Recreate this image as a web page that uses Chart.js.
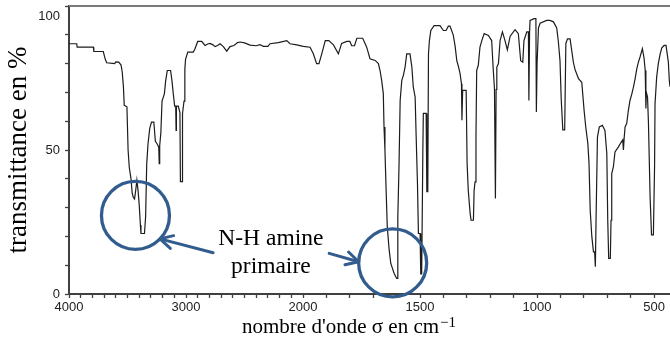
<!DOCTYPE html>
<html><head><meta charset="utf-8">
<script src="https://cdn.jsdelivr.net/npm/chart.js@4/dist/chart.umd.min.js"></script>
<style>html,body{margin:0;padding:0;background:#fff;overflow:hidden}#wrap{width:670px;height:338px}</style>
</head><body><div id="wrap"><canvas id="c" width="670" height="338"></canvas></div>
<script>
// ---- data (wavenumber in cm-1, transmittance in %) ----
const wavenumbers = [4000,3934,3930,3792,3788,3707,3690,3678,3610,3600,3575,3555,3545,3535,3528,3505,3495,3485,3470,3460,3450,3440,3430,3420,3410,3400,3390,3385,3355,3345,3336,3325,3310,3295,3275,3262,3245,3233,3229,3225,3215,3205,3185,3174,3160,3132,3120,3110,3097,3088,3085,3082,3066,3052,3048,3034,3030,3017,3010,3004,2985,2938,2925,2900,2866,2838,2815,2795,2770,2752,2730,2709,2681,2652,2624,2590,2560,2538,2500,2453,2400,2368,2340,2300,2282,2211,2139,2111,2054,1999,1970,1956,1942,1932,1920,1905,1890,1870,1849,1835,1813,1800,1792,1780,1770,1745,1735,1728,1714,1692,1678,1671,1664,1657,1654,1650,1645,1640,1632,1625,1611,1600,1597,1595,1590,1585,1578,1571,1564,1557,1543,1535,1529,1521,1517,1511,1507,1500,1497,1493,1488,1486,1474,1471,1467,1464,1460,1454,1440,1415,1400,1389,1379,1372,1358,1350,1343,1336,1329,1323,1321,1318,1303,1299,1294,1286,1282,1272,1269,1265,1261,1258,1251,1244,1236,1226,1208,1194,1187,1182,1178,1175,1172,1165,1158,1148,1137,1127,1115,1094,1080,1070,1061,1056,1044,1037,1035,1032,1030,1013,1005,1003,1000,994,987,959,945,930,916,909,902,897,890,882,877,870,859,852,845,838,823,809,805,799,792,783,778,773,766,759,754,751,748,742,734,721,710,702,698,694,687,684,681,674,667,653,642,634,631,628,624,617,610,603,595,588,581,574,567,560,550,543,538,535,533,528,524,517,511,503,498,496,489,482,474,467,457,449,444,439,435,432];
const transmittance = [86.9,86.9,85.7,85.7,84.2,84.2,81.5,80.3,80,80.6,80.5,79.5,77,72,65.5,65,50,44,40,35,33.5,33,36,39.5,36,31,24,21,21,27,45,52,57.5,59.7,59.7,53,52,51,45.3,51.5,56,67,69.5,74,77.6,77.6,74,70,65.2,65.2,56.8,65.2,65.2,63,39,39,62.6,67,78,81.5,84,84,85,87.7,87.7,86.3,86.8,87,86.5,85.9,86.3,86.9,85.9,84.3,85.9,86.3,87.3,87.5,87.2,86.4,86.2,86.6,86,86,86.9,87.3,88,86.9,86.5,86,85.7,83.4,80,80,83.4,88,88,86.5,83.4,87,87.7,87.7,86.2,86.2,88.8,88.8,87,85.7,81.7,81.1,80,77.6,74.2,69.6,58,50,36,23.3,15.3,10.6,7.2,5.4,5.4,26.8,44.1,67.2,74.2,76,78.8,83.4,83.4,78.8,71.9,68.4,55.7,38.4,21,21,7,7,50,62.7,62.7,35.5,35.5,83.4,88,91.5,93.2,93.2,91.5,91.5,93,93,89.9,86,81,79,76.5,73,60.3,70.7,70.7,45.4,36,28,25.6,25.6,36,38.9,55,77.6,79.5,85.7,88,90.4,89.8,88,77.6,71.3,33.2,71,78.8,80,88,91,88,84.8,89.5,91.8,90.4,81,80.5,88,91,91,67.2,91,95,95.6,95.6,63.2,80,92.4,94,95,95,94.5,92.4,87.6,81,68,57,57,87,88.6,88.6,84.6,80.5,78,74.8,73.5,69.6,63.7,58,52.2,45.3,29.1,19.9,14.6,14.6,9.5,25.6,54.5,58,58.6,56.8,48.8,25.6,12.4,12.4,25.6,41.8,44.1,49.3,51,52.5,53.5,50,54,58,59.2,63.7,67.2,69.5,71.9,74.8,78.2,80.5,82.3,85.2,82,77.6,64.4,70,68.4,59.2,33.7,20.5,20.5,44,66,75.3,80,83.4,85.5,86.3,86.3,83.4,80.5,74.2,72];
const xTickLabels = [4000, 3000, 2000, 1500, 1000, 500];
const yTickLabels = [0, 50, 100];
const xMinorStep = 100;           // cm-1 between tick marks
const yMinorStep = 10;            // % between tick marks
const circledBands = [3432, 1617]; // N-H bands that are circled
const circledLevels = [27.3, 10.8];
const noteLines = ['N-H amine', 'primaire'];
const noteAnchor = {wn: 2275, t: 17};
const yTitle = 'transmittance en %';
const xTitle = "nombre d'onde σ en cm";
const xTitleSup = '−1';

// piecewise IR axis: 4000-2000 compressed, 2000-400 expanded x2
function toU(wn) { return wn >= 2000 ? (4000 - wn) / 1000 : 2 + (2000 - wn) / 500; }
function fromU(u) { return u <= 2 ? 4000 - u * 1000 : 2000 - (u - 2) * 500; }

const xTickValues = [];
for (let w = 4000; w >= 500; w -= xMinorStep) xTickValues.push(w);
const yTickValues = [];
for (let v = 0; v <= 100; v += yMinorStep) yTickValues.push(v);

const BLUE = '#335C8E';
const serif = '"Liberation Serif", "Times New Roman", serif';
const sans = '"Liberation Sans", Arial, sans-serif';

const decor = {
  id: 'decor',
  afterDraw(chart) {
    const {ctx, chartArea: ca, scales: {x, y}} = chart;
    ctx.save();
    // top frame line
    ctx.strokeStyle = '#7a7a7a'; ctx.lineWidth = 2;
    ctx.beginPath(); ctx.moveTo(ca.left, ca.top); ctx.lineTo(ca.right, ca.top); ctx.stroke();

    // circles
    const R = 34;
    const centers = circledBands.map((w, i) => ({cx: x.getPixelForValue(toU(w)), cy: y.getPixelForValue(circledLevels[i])}));
    ctx.strokeStyle = BLUE; ctx.lineWidth = 3.3;
    centers.forEach(c => { ctx.beginPath(); ctx.arc(c.cx, c.cy, R, 0, Math.PI * 2); ctx.stroke(); });

    // note text
    const tx = x.getPixelForValue(toU(noteAnchor.wn));
    const ty = y.getPixelForValue(noteAnchor.t);
    ctx.fillStyle = '#000';
    ctx.font = '23.5px ' + serif;
    ctx.textAlign = 'center'; ctx.textBaseline = 'alphabetic';
    ctx.fillText(noteLines[0], tx, ty);
    ctx.fillText(noteLines[1], tx, ty + 28);

    // arrows
    const arrows = [
      {sx: tx - 57.7, sy: ty + 7.7, c: centers[0], ang: 43.8},
      {sx: tx + 58.3, sy: ty + 8.3, c: centers[1], ang: 182}
    ];
    ctx.lineWidth = 3; ctx.lineCap = 'round'; ctx.lineJoin = 'round';
    arrows.forEach(a => {
      const ex = a.c.cx + R * Math.cos(a.ang * Math.PI / 180);
      const ey = a.c.cy + R * Math.sin(a.ang * Math.PI / 180);
      ctx.beginPath(); ctx.moveTo(a.sx, a.sy); ctx.lineTo(ex, ey); ctx.stroke();
      const back = Math.atan2(a.sy - ey, a.sx - ex);
      const L = 14, spread = 28 * Math.PI / 180;
      ctx.beginPath();
      ctx.moveTo(ex + L * Math.cos(back + spread), ey + L * Math.sin(back + spread));
      ctx.lineTo(ex, ey);
      ctx.lineTo(ex + L * Math.cos(back - spread), ey + L * Math.sin(back - spread));
      ctx.stroke();
    });

    // x title with superscript
    ctx.textAlign = 'left'; ctx.textBaseline = 'alphabetic';
    ctx.font = '21px ' + serif;
    const titleX = ca.left + 173, titleY = 333;
    ctx.fillText(xTitle, titleX, titleY);
    const w = ctx.measureText(xTitle).width;
    ctx.font = '15px ' + serif;
    ctx.fillText(xTitleSup, titleX + w + 1, titleY - 6);
    ctx.restore();
  }
};

new Chart(document.getElementById('c'), {
  type: 'line',
  data: {
    datasets: [{
      data: wavenumbers.map((w, i) => ({x: toU(w), y: transmittance[i]})),
      borderColor: '#1c1c1c', borderWidth: 1.2, pointRadius: 0, tension: 0, fill: false
    }]
  },
  options: {
    responsive: false, animation: false, devicePixelRatio: 1,
    layout: {padding: {top: 6, right: 0, left: 0, bottom: 0}},
    plugins: {legend: {display: false}, tooltip: {enabled: false}},
    scales: {
      x: {
        type: 'linear', min: 0, max: toU(432),
        afterFit: s => { s.height = 44; s.paddingLeft = 0; s.paddingRight = 0; },
        afterBuildTicks: s => { s.ticks = xTickValues.map(w => ({value: toU(w)})); },
        ticks: {
          autoSkip: false, maxRotation: 0, padding: 2, color: '#222',
          font: {family: sans, size: 13},
          callback: v => { const w = Math.round(fromU(v)); return xTickLabels.includes(w) ? String(w) : ''; }
        },
        grid: {drawOnChartArea: false, drawTicks: true, tickLength: 4, tickColor: '#404040', tickWidth: 1.3},
        border: {color: '#404040', width: 2}
      },
      y: {
        type: 'linear', min: 0, max: 100,
        afterFit: s => { s.width = 69; s.paddingTop = 0; s.paddingBottom = 0; },
        afterBuildTicks: s => { s.ticks = yTickValues.map(v => ({value: v})); },
        ticks: {
          autoSkip: false, padding: 5, color: '#222',
          font: ctx => ({family: sans, size: 13, lineHeight: (ctx.tick && ctx.tick.value === 100) ? 1.55 : 1.2}),
          callback: v => v === 100 ? ['', String(v)] : (yTickLabels.includes(v) ? String(v) : '')
        },
        grid: {drawOnChartArea: false, drawTicks: true, tickLength: 4, tickColor: '#404040', tickWidth: 1.3},
        border: {color: '#404040', width: 2},
        title: {display: true, text: yTitle, color: '#000', font: {family: serif, size: 27}, padding: {top: 3, bottom: 0}}
      }
    }
  },
  plugins: [decor]
});
</script>
</body></html>
